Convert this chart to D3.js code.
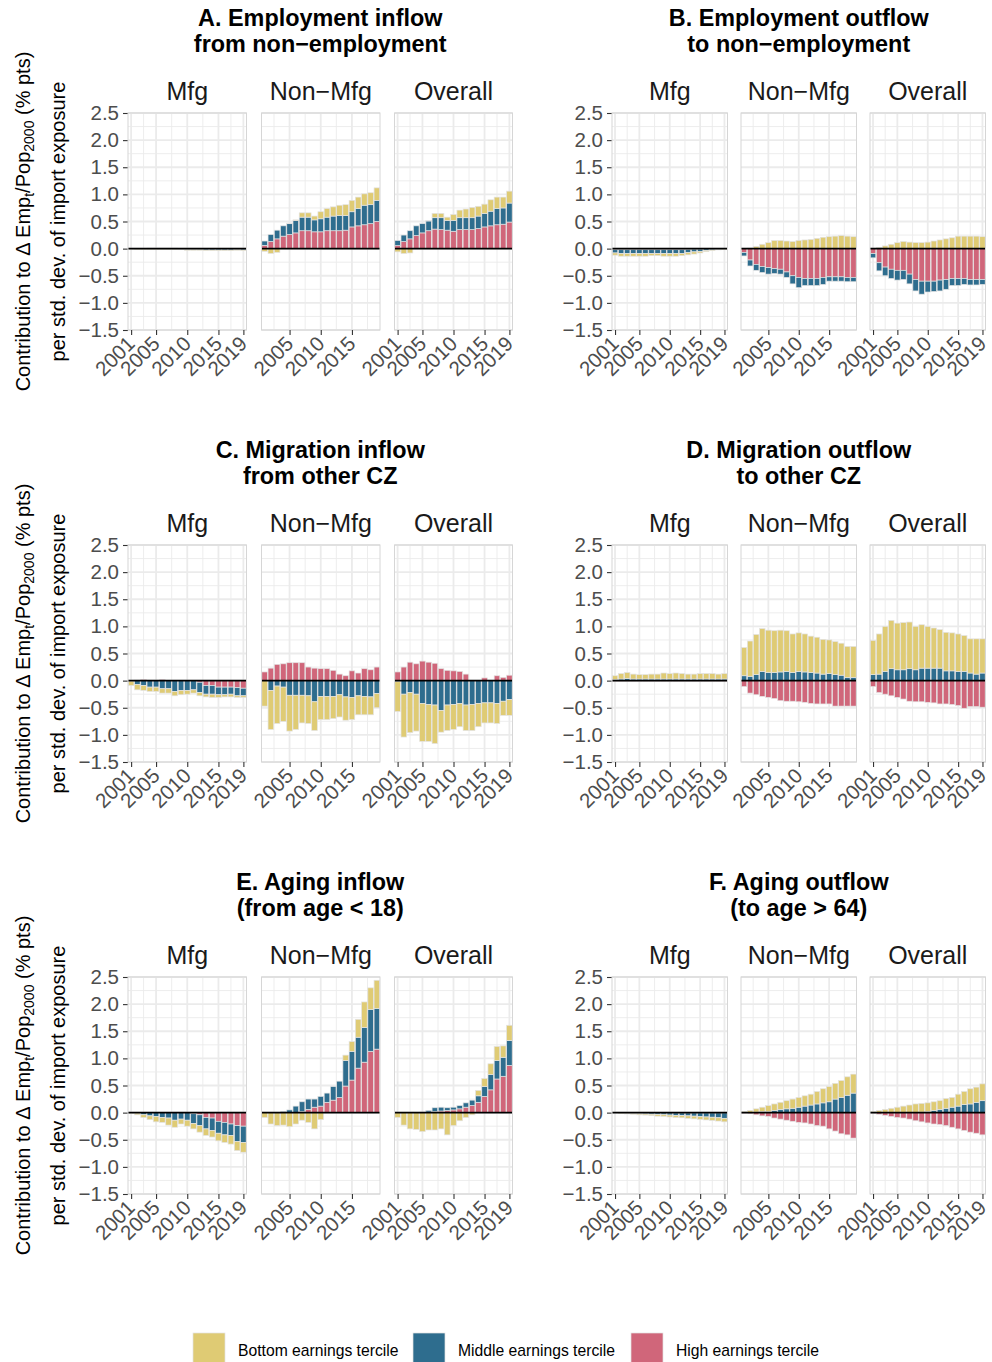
<!DOCTYPE html>
<html><head><meta charset="utf-8">
<script src="https://cdn.jsdelivr.net/npm/d3@7"></script>
<style>
body{margin:0;background:#fff;}
svg{display:block;font-family:"Liberation Sans",Arial,sans-serif;}
</style></head>
<body><svg id="chart" width="992" height="1362"></svg>
<script>
const years = [2001,2002,2003,2004,2005,2006,2007,2008,2009,2010,2011,2012,2013,2014,2015,2016,2017,2018,2019];
const facets = ["Mfg","Non\u2212Mfg","Overall"];
const seriesNames = ["Bottom earnings tercile","Middle earnings tercile","High earnings tercile"];
const seriesColors = ["#dfcb74","#2e6d8e","#d0667a"];
const yTicks = [-1.5,-1.0,-0.5,0.0,0.5,1.0,1.5,2.0,2.5];
const xTicksFull = [2001,2005,2010,2015,2019];
const xTicksMid = [2005,2010,2015];
const panelTitles = [
  ["A. Employment inflow","from non\u2212employment"],
  ["B. Employment outflow","to non\u2212employment"],
  ["C. Migration inflow","from other CZ"],
  ["D. Migration outflow","to other CZ"],
  ["E. Aging inflow","(from age < 18)"],
  ["F. Aging outflow","(to age > 64)"]
];

// ---- A. Employment inflow ----
const A_Mfg_High   = [0,0,0.005,0.01,0.01,0.01,0.01,0.01,0.005,0,0,0,0,0,0,0,0,0,0];
const A_Mfg_Middle = [-0.003,-0.005,-0.005,-0.005,-0.005,-0.005,-0.005,-0.005,-0.01,-0.02,-0.02,-0.02,-0.025,-0.025,-0.025,-0.025,-0.025,-0.02,-0.025];
const A_Mfg_Bottom = [-0.005,-0.01,-0.01,-0.01,-0.01,-0.008,-0.008,-0.008,-0.01,-0.01,-0.01,-0.01,-0.01,-0.01,-0.01,-0.01,-0.01,-0.01,-0.01];
const A_Non_High   = [0.06,0.13,0.18,0.23,0.26,0.29,0.33,0.33,0.31,0.31,0.33,0.33,0.33,0.34,0.40,0.42,0.44,0.46,0.50];
const A_Non_Middle = [0.08,0.13,0.16,0.19,0.20,0.23,0.25,0.25,0.22,0.24,0.25,0.27,0.28,0.27,0.28,0.32,0.36,0.35,0.39];
const A_Non_Bottom = [-0.05,-0.09,-0.07,0.0,0.01,0.01,0.08,0.08,0.07,0.13,0.16,0.17,0.19,0.20,0.21,0.21,0.21,0.22,0.23];
const A_All_High   = [0.055,0.13,0.18,0.24,0.29,0.33,0.36,0.35,0.34,0.32,0.35,0.35,0.35,0.37,0.40,0.42,0.44,0.45,0.49];
const A_All_Middle = [0.095,0.12,0.15,0.18,0.17,0.18,0.21,0.22,0.18,0.20,0.22,0.22,0.22,0.23,0.25,0.27,0.30,0.30,0.35];
const A_All_Bottom = [-0.06,-0.09,-0.08,0.0,0.0,0.01,0.08,0.08,0.06,0.11,0.14,0.16,0.19,0.18,0.17,0.21,0.21,0.20,0.22];

// ---- B. Employment outflow ----
const B_Mfg_High   = [-0.02,-0.02,-0.02,-0.02,-0.02,-0.02,-0.02,-0.02,-0.02,-0.02,-0.02,-0.02,-0.015,-0.01,-0.01,-0.005,-0.005,-0.003,-0.002];
const B_Mfg_Middle = [-0.06,-0.07,-0.07,-0.07,-0.07,-0.07,-0.07,-0.07,-0.07,-0.07,-0.07,-0.07,-0.06,-0.05,-0.04,-0.03,-0.02,-0.01,-0.005];
const B_Mfg_Bottom = [-0.04,-0.05,-0.05,-0.05,-0.05,-0.05,-0.04,-0.04,-0.05,-0.05,-0.05,-0.04,-0.04,-0.04,-0.03,-0.02,-0.01,-0.01,-0.005];
const B_Non_High   = [-0.07,-0.21,-0.29,-0.33,-0.35,-0.37,-0.38,-0.43,-0.50,-0.53,-0.55,-0.55,-0.55,-0.53,-0.52,-0.52,-0.52,-0.53,-0.53];
const B_Non_Middle = [-0.065,-0.11,-0.11,-0.11,-0.12,-0.09,-0.09,-0.10,-0.15,-0.19,-0.13,-0.13,-0.13,-0.13,-0.08,-0.08,-0.08,-0.08,-0.08];
const B_Non_Bottom = [0.0,0.01,0.04,0.08,0.11,0.15,0.15,0.14,0.13,0.15,0.16,0.17,0.19,0.21,0.22,0.23,0.24,0.23,0.22];
const B_All_High   = [-0.09,-0.26,-0.34,-0.38,-0.40,-0.40,-0.47,-0.57,-0.60,-0.60,-0.60,-0.58,-0.57,-0.55,-0.55,-0.55,-0.57,-0.57,-0.57];
const B_All_Middle = [-0.08,-0.15,-0.16,-0.17,-0.18,-0.17,-0.18,-0.21,-0.24,-0.20,-0.19,-0.20,-0.18,-0.13,-0.13,-0.11,-0.10,-0.10,-0.09];
const B_All_Bottom = [0.0,0.02,0.05,0.08,0.11,0.13,0.12,0.11,0.11,0.12,0.14,0.16,0.18,0.20,0.23,0.23,0.23,0.23,0.22];

// ---- C. Migration inflow ----
const C_Mfg_High   = [0,0.01,0.02,0.01,0.01,0.02,0.0,0,0,0,0,-0.03,-0.09,-0.09,-0.12,-0.12,-0.12,-0.13,-0.14];
const C_Mfg_Middle = [-0.01,-0.07,-0.09,-0.12,-0.12,-0.15,-0.15,-0.20,-0.18,-0.18,-0.17,-0.19,-0.16,-0.16,-0.14,-0.14,-0.13,-0.15,-0.14];
const C_Mfg_Bottom = [-0.08,-0.10,-0.09,-0.08,-0.08,-0.08,-0.08,-0.08,-0.08,-0.07,-0.06,-0.06,-0.05,-0.06,-0.05,-0.04,-0.05,-0.03,-0.03];
const C_Non_High   = [0.16,0.23,0.30,0.31,0.33,0.33,0.33,0.25,0.23,0.22,0.22,0.19,0.12,0.09,0.18,0.14,0.22,0.20,0.25];
const C_Non_Middle = [0.0,-0.18,-0.10,-0.12,-0.27,-0.27,-0.27,-0.28,-0.39,-0.29,-0.29,-0.29,-0.26,-0.30,-0.31,-0.28,-0.29,-0.30,-0.24];
const C_Non_Bottom = [-0.47,-0.72,-0.69,-0.63,-0.66,-0.63,-0.51,-0.51,-0.53,-0.43,-0.43,-0.41,-0.41,-0.43,-0.41,-0.35,-0.34,-0.33,-0.26];
const C_All_High   = [0.16,0.25,0.34,0.31,0.36,0.34,0.32,0.22,0.19,0.18,0.17,0.12,0.0,0.0,0.05,0.0,0.09,0.06,0.10];
const C_All_Middle = [-0.02,-0.25,-0.22,-0.25,-0.42,-0.44,-0.45,-0.55,-0.45,-0.44,-0.42,-0.45,-0.44,-0.42,-0.41,-0.41,-0.42,-0.38,-0.35];
const C_All_Bottom = [-0.55,-0.79,-0.74,-0.68,-0.70,-0.68,-0.71,-0.40,-0.47,-0.46,-0.43,-0.47,-0.48,-0.43,-0.37,-0.37,-0.37,-0.26,-0.29];

// ---- D. Migration outflow ----
const D_Mfg_High   = [-0.01,-0.01,-0.01,-0.01,-0.01,-0.01,-0.01,-0.01,-0.01,-0.01,-0.01,-0.01,-0.01,-0.01,-0.01,-0.01,-0.01,-0.01,-0.01];
const D_Mfg_Middle = [0.02,0.03,0.04,0.03,0.03,0.03,0.03,0.03,0.03,0.03,0.03,0.03,0.03,0.03,0.03,0.03,0.03,0.03,0.03];
const D_Mfg_Bottom = [0.07,0.10,0.11,0.09,0.08,0.08,0.09,0.09,0.11,0.10,0.11,0.10,0.09,0.09,0.10,0.10,0.10,0.09,0.10];
const D_Non_High   = [-0.11,-0.23,-0.26,-0.29,-0.31,-0.33,-0.37,-0.38,-0.38,-0.39,-0.40,-0.42,-0.43,-0.43,-0.43,-0.47,-0.47,-0.47,-0.47];
const D_Non_Middle = [0.09,0.08,0.11,0.17,0.15,0.15,0.16,0.17,0.15,0.17,0.16,0.15,0.14,0.12,0.13,0.11,0.10,0.06,0.06];
const D_Non_Bottom = [0.52,0.65,0.74,0.79,0.78,0.77,0.77,0.75,0.71,0.71,0.70,0.67,0.66,0.64,0.62,0.61,0.59,0.57,0.57];
const D_All_High   = [-0.11,-0.22,-0.25,-0.28,-0.31,-0.34,-0.38,-0.39,-0.39,-0.40,-0.41,-0.43,-0.43,-0.44,-0.46,-0.51,-0.48,-0.48,-0.49];
const D_All_Middle = [0.11,0.12,0.17,0.22,0.20,0.20,0.22,0.20,0.23,0.23,0.23,0.23,0.18,0.18,0.17,0.17,0.14,0.12,0.14];
const D_All_Bottom = [0.63,0.74,0.83,0.89,0.86,0.87,0.86,0.80,0.80,0.77,0.74,0.71,0.71,0.70,0.69,0.66,0.63,0.65,0.63];

// ---- E. Aging inflow ----
const E_Mfg_High   = [0,0,0,0,0,0,0,0,0,0,-0.02,-0.04,-0.09,-0.10,-0.16,-0.18,-0.21,-0.24,-0.25];
const E_Mfg_Middle = [-0.005,-0.01,-0.04,-0.06,-0.07,-0.09,-0.10,-0.14,-0.12,-0.14,-0.18,-0.20,-0.21,-0.23,-0.22,-0.23,-0.21,-0.29,-0.30];
const E_Mfg_Bottom = [-0.005,-0.03,-0.05,-0.07,-0.10,-0.09,-0.13,-0.13,-0.09,-0.11,-0.10,-0.12,-0.12,-0.12,-0.14,-0.14,-0.16,-0.17,-0.18];
const E_Non_High   = [0,0,0,0,0,0,0.02,0.06,0.10,0.12,0.19,0.23,0.28,0.49,0.60,0.82,0.93,1.13,1.17];
const E_Non_Middle = [0,0,0,0.02,0.05,0.12,0.18,0.19,0.15,0.18,0.17,0.25,0.30,0.47,0.53,0.57,0.64,0.77,0.75];
const E_Non_Bottom = [-0.09,-0.21,-0.24,-0.23,-0.26,-0.21,-0.14,-0.18,-0.30,-0.13,0.0,0.0,0.0,0.10,0.18,0.33,0.47,0.40,0.52];
const E_All_High   = [0,0,0,0,0,0.01,0.02,0.03,0.04,0.05,0.07,0.10,0.13,0.19,0.30,0.42,0.62,0.67,0.87];
const E_All_Middle = [0,0,0,0,0.01,0.03,0.07,0.07,0.05,0.05,0.06,0.08,0.10,0.12,0.18,0.28,0.34,0.35,0.46];
const E_All_Bottom = [-0.09,-0.23,-0.30,-0.31,-0.35,-0.32,-0.32,-0.30,-0.41,-0.24,-0.15,-0.09,-0.04,0.10,0.15,0.20,0.26,0.21,0.28];

// ---- F. Aging outflow ----
const F_Mfg_High   = [0,0,0,0,0,-0.005,-0.005,-0.005,-0.005,-0.005,-0.005,-0.005,-0.005,-0.005,-0.005,-0.005,-0.005,-0.005,-0.005];
const F_Mfg_Middle = [0,-0.005,-0.01,-0.015,-0.02,-0.02,-0.025,-0.03,-0.035,-0.04,-0.045,-0.05,-0.055,-0.06,-0.07,-0.075,-0.08,-0.09,-0.10];
const F_Mfg_Bottom = [-0.005,-0.01,-0.015,-0.015,-0.02,-0.02,-0.025,-0.03,-0.03,-0.035,-0.04,-0.04,-0.045,-0.05,-0.05,-0.055,-0.06,-0.06,-0.065];
const F_Non_High   = [-0.01,-0.02,-0.04,-0.06,-0.07,-0.10,-0.12,-0.14,-0.16,-0.18,-0.19,-0.21,-0.24,-0.25,-0.30,-0.34,-0.39,-0.41,-0.47];
const F_Non_Middle = [0,0,0.01,0.02,0.02,0.04,0.06,0.07,0.08,0.10,0.12,0.14,0.16,0.18,0.20,0.25,0.28,0.32,0.36];
const F_Non_Bottom = [0.02,0.04,0.06,0.08,0.11,0.12,0.13,0.15,0.17,0.18,0.19,0.20,0.23,0.26,0.28,0.29,0.31,0.34,0.35];
const F_All_High   = [-0.01,-0.03,-0.05,-0.07,-0.09,-0.10,-0.12,-0.15,-0.17,-0.19,-0.21,-0.22,-0.24,-0.27,-0.30,-0.33,-0.36,-0.38,-0.41];
const F_All_Middle = [0,0,0,0,0,0,0,0,0.01,0.02,0.04,0.06,0.08,0.10,0.12,0.15,0.16,0.19,0.22];
const F_All_Bottom = [0.02,0.04,0.06,0.08,0.10,0.12,0.14,0.16,0.16,0.16,0.16,0.16,0.18,0.18,0.22,0.24,0.28,0.28,0.31];

const panelSeries = [
  [[A_Mfg_Bottom,A_Mfg_Middle,A_Mfg_High],[A_Non_Bottom,A_Non_Middle,A_Non_High],[A_All_Bottom,A_All_Middle,A_All_High]],
  [[B_Mfg_Bottom,B_Mfg_Middle,B_Mfg_High],[B_Non_Bottom,B_Non_Middle,B_Non_High],[B_All_Bottom,B_All_Middle,B_All_High]],
  [[C_Mfg_Bottom,C_Mfg_Middle,C_Mfg_High],[C_Non_Bottom,C_Non_Middle,C_Non_High],[C_All_Bottom,C_All_Middle,C_All_High]],
  [[D_Mfg_Bottom,D_Mfg_Middle,D_Mfg_High],[D_Non_Bottom,D_Non_Middle,D_Non_High],[D_All_Bottom,D_All_Middle,D_All_High]],
  [[E_Mfg_Bottom,E_Mfg_Middle,E_Mfg_High],[E_Non_Bottom,E_Non_Middle,E_Non_High],[E_All_Bottom,E_All_Middle,E_All_High]],
  [[F_Mfg_Bottom,F_Mfg_Middle,F_Mfg_High],[F_Non_Bottom,F_Non_Middle,F_Non_High],[F_All_Bottom,F_All_Middle,F_All_High]]
];

// ---------- layout ----------
const svg = d3.select("#chart");
const colLeft = [[128,118.5],[261.5,118.5],[394.5,118]];
const colRight = [[612,115.5],[741,115.5],[870,115.5]];
const rowTop = [113,545,977];
const panelH = 217;
const gridColor = "#ebebeb";
const borderColor = "#d6d6d6";
const textGrey = "#4d4d4d";
const tickFont = 20.5;

const y = d3.scaleLinear().domain([-1.5,2.5]);
const keys = ["High","Middle","Bottom"]; // stacking order from zero outward
const colorOf = {Bottom:seriesColors[0],Middle:seriesColors[1],High:seriesColors[2]};

panelSeries.forEach((facetsData, p) => {
  const row = Math.floor(p/2), col = p%2;
  const cols = col===0 ? colLeft : colRight;
  const top = rowTop[row];
  y.range([top+panelH, top]);
  const groupLeft = cols[0][0], groupRight = cols[2][0]+cols[2][1];
  const cx = (groupLeft+groupRight)/2;

  // titles
  panelTitles[p].forEach((t,i)=>{
    svg.append("text").attr("x",cx).attr("y",top-87+i*26)
      .attr("text-anchor","middle").attr("font-size",23.4).attr("font-weight","bold")
      .attr("fill","#000").text(t);
  });

  // y axis ticks/labels (left of first facet)
  const yAxis = d3.axisLeft(y).tickValues(yTicks).tickSize(5).tickPadding(4)
      .tickFormat(d=>d3.format(".1f")(d).replace("-","\u2212"));
  const ga = svg.append("g").attr("transform",`translate(${cols[0][0]},0)`).call(yAxis);
  ga.select(".domain").remove();
  ga.selectAll("line").attr("stroke","#333").attr("stroke-width",1.1);
  ga.selectAll("text").attr("font-size",tickFont).attr("fill",textGrey)
    .attr("font-family","Liberation Sans, Arial, sans-serif");

  if (col===0){
    const cy = top+panelH/2;
    const t1 = svg.append("text").attr("transform",`translate(30,${cy}) rotate(-90)`)
      .attr("text-anchor","middle").attr("font-size",20).attr("fill","#000");
    t1.append("tspan").text("Contribution to \u0394 Emp");
    t1.append("tspan").attr("font-size",14).attr("dy",4).text("t");
    t1.append("tspan").attr("dy",-4).text("/Pop");
    t1.append("tspan").attr("font-size",14).attr("dy",4).text("2000");
    t1.append("tspan").attr("dy",-4).text(" (% pts)");
    svg.append("text").attr("transform",`translate(65,${cy}) rotate(-90)`)
      .attr("text-anchor","middle").attr("font-size",20).attr("fill","#000")
      .text("per std. dev. of import exposure");
  }

  facetsData.forEach((arrs, f) => {
    const [x0,w] = cols[f];
    const x = d3.scaleLinear().domain([2000.5,2019.5]).range([x0,x0+w]);
    const g = svg.append("g");
    // strip label
    svg.append("text").attr("x",x0+w/2).attr("y",top-13).attr("text-anchor","middle")
      .attr("font-size",25).attr("fill","#1a1a1a").text(facets[f]);
    // grid
    const majorX = f===1 ? xTicksMid : xTicksFull;
    const minorX = [];
    const bx = f===1 ? [2000.0].concat(majorX).concat([2020]) : majorX;
    for (let i=0;i<bx.length-1;i++) minorX.push((bx[i]+bx[i+1])/2);
    const minorY = [];
    for (let i=0;i<yTicks.length-1;i++) minorY.push((yTicks[i]+yTicks[i+1])/2);
    g.selectAll(".mny").data(minorY).join("line").attr("x1",x0).attr("x2",x0+w)
      .attr("y1",d=>y(d)).attr("y2",d=>y(d)).attr("stroke",gridColor).attr("stroke-width",0.9);
    g.selectAll(".mnx").data(minorX.filter(d=>d>2000.5&&d<2019.5)).join("line").attr("y1",top).attr("y2",top+panelH)
      .attr("x1",d=>x(d)).attr("x2",d=>x(d)).attr("stroke",gridColor).attr("stroke-width",0.9);
    g.selectAll(".mjy").data(yTicks).join("line").attr("x1",x0).attr("x2",x0+w)
      .attr("y1",d=>y(d)).attr("y2",d=>y(d)).attr("stroke",gridColor).attr("stroke-width",1.8);
    g.selectAll(".mjx").data(majorX).join("line").attr("y1",top).attr("y2",top+panelH)
      .attr("x1",d=>x(d)).attr("x2",d=>x(d)).attr("stroke",gridColor).attr("stroke-width",1.8);

    // stacked bars
    const table = years.map((yr,i)=>({year:yr, Bottom:arrs[0][i], Middle:arrs[1][i], High:arrs[2][i]}));
    const stacked = d3.stack().keys(keys).offset(d3.stackOffsetDiverging)(table);
    const bw = (x(2002)-x(2001))*0.9;
    stacked.forEach(s=>{
      g.selectAll(null).data(s).join("rect")
        .attr("x",d=>x(d.data.year)-bw/2).attr("width",bw)
        .attr("y",d=>y(Math.max(d[0],d[1])))
        .attr("height",d=>Math.abs(y(d[0])-y(d[1])))
        .attr("fill",colorOf[s.key]).attr("stroke","#e3e3e3").attr("stroke-width",0.7);
    });
    // zero line
    g.append("line").attr("x1",x0).attr("x2",x0+w).attr("y1",y(0)).attr("y2",y(0))
      .attr("stroke","#000").attr("stroke-width",1.6);
    // border
    g.append("rect").attr("x",x0).attr("y",top).attr("width",w).attr("height",panelH)
      .attr("fill","none").attr("stroke",borderColor).attr("stroke-width",1);

    // x axis
    const xAxis = d3.axisBottom(x).tickValues(majorX).tickSize(5).tickPadding(3).tickFormat(d3.format("d"));
    const gx = svg.append("g").attr("transform",`translate(0,${top+panelH})`).call(xAxis);
    gx.select(".domain").remove();
    gx.selectAll("line").attr("stroke","#333").attr("stroke-width",1.1);
    gx.selectAll("text").attr("font-size",tickFont).attr("fill",textGrey)
      .attr("font-family","Liberation Sans, Arial, sans-serif")
      .attr("text-anchor","end").attr("dy",0).attr("y",0)
      .attr("transform","translate(4.5,15) rotate(-45)");
  });
});

// legend
const lg = svg.append("g");
const legX = [193,413,631];
seriesNames.forEach((n,i)=>{
  lg.append("rect").attr("x",legX[i]).attr("y",1333).attr("width",32).attr("height",30)
    .attr("fill",seriesColors[i]).attr("stroke","#e3e3e3").attr("stroke-width",0.7);
  lg.append("text").attr("x",legX[i]+45).attr("y",1356).attr("font-size",15.7)
    .attr("fill","#000").text(n);
});
</script></body></html>
